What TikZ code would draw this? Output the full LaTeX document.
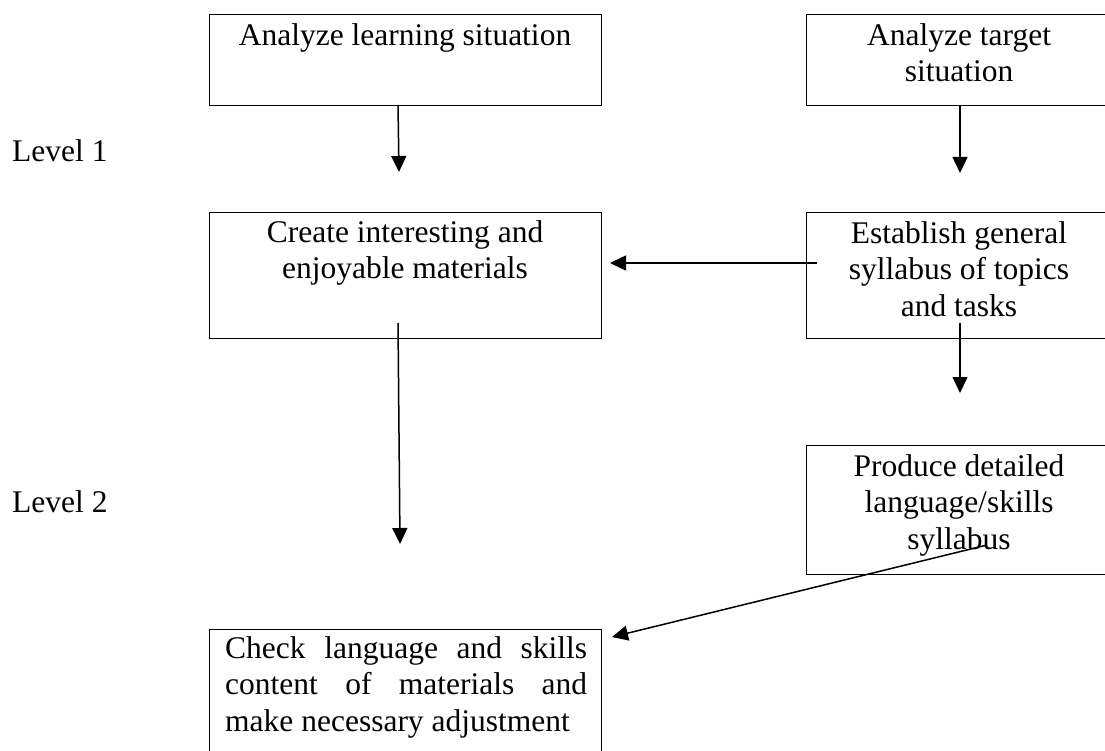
\documentclass[tikz,border=0pt]{standalone}
\usepackage{fontspec}
\setmainfont{Liberation Serif}
\usetikzlibrary{arrows.meta}
\begin{document}
\begin{tikzpicture}[x=1pt,y=-1pt,
  box/.style={draw, line width=1.1pt, rectangle, inner sep=0pt, anchor=north west},
  txt/.style={inner sep=0pt, align=center, anchor=north, font=\fontsize{31.5}{36.5}\selectfont},
  lvl/.style={inner sep=0pt, anchor=base west, font=\fontsize{31.5}{36.5}\selectfont},
  arr/.style={line width=1.5pt, -{Triangle[length=16pt,width=15pt]}}]
\useasboundingbox (0,0) rectangle (1105,751);
\clip (0,0) rectangle (1105,751);
% boxes
\node[box, minimum width=392pt, minimum height=91pt] (A) at (209,14) {};
\node[box, minimum width=306pt, minimum height=91pt] (B) at (806,14) {};
\node[box, minimum width=392pt, minimum height=126pt] (C) at (209,212) {};
\node[box, minimum width=306pt, minimum height=126pt] (D) at (806,212) {};
\node[box, minimum width=306pt, minimum height=129pt] (E) at (806,445) {};
\node[box, minimum width=392pt, minimum height=140pt] (F) at (209,629) {};
% texts
\node[txt] (At) at (405,19.45) {\strut Analyze learning situation};
\node[txt] (Bt) at (959,19.45) {\strut Analyze target\\\strut situation};
\node[txt] (Ct) at (405,216.5) {\strut Create interesting and\\\strut enjoyable materials};
\node[txt] (Dt) at (959,217.5) {\strut Establish general\\\strut syllabus of topics\\\strut and tasks};
\node[txt] (Et) at (959,450.5) {\strut Produce detailed\\\strut language/skills\\\strut syllabus};
\node[txt, anchor=north west, align=left] (Ft) at (225,632.5)
  {\hbox to 362pt{\strut Check\hfill language\hfill and\hfill skills}\\
   \hbox to 362pt{\strut content\hfill of\hfill materials\hfill and}\\
   \hbox to 362pt{\strut make necessary adjustment\hfill}};
\node[lvl] (L1) at (12,162) {Level 1};
\node[lvl] (L2) at (12,512) {Level 2};
% arrow ends
\coordinate (a1s) at (398,105);
\coordinate (a1e) at (399,172);
\coordinate (b1s) at (960,105);
\coordinate (b1e) at (960,173);
\coordinate (ds) at (817,263);
\coordinate (de) at (610,263);
\coordinate (cs) at (398,323);
\coordinate (ce) at (400,544);
\coordinate (d2s) at (960,323);
\coordinate (d2e) at (960,393);
\coordinate (es) at (987,545);
\coordinate (ee) at (612,637);
% arrows
\draw[arr] (a1s) -- (a1e);
\draw[arr] (b1s) -- (b1e);
\draw[arr] (ds) -- (de);
\draw[arr] (cs) -- (ce);
\draw[arr] (d2s) -- (d2e);
\draw[arr] (es) -- (ee);
\end{tikzpicture}
\end{document}
